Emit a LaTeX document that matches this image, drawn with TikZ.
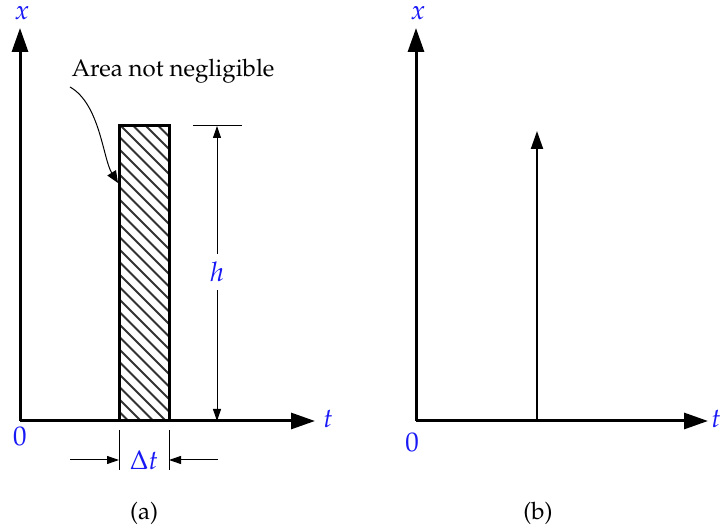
\documentclass[tikz,border=0pt]{standalone}
\usepackage[T1]{fontenc}
\usepackage{mathpazo}
\usetikzlibrary{arrows.meta,positioning}
\definecolor{labelblue}{RGB}{25,25,245}
\tikzset{
  axis line/.style={line width=1.5pt, -{Triangle[length=12pt,width=8pt]}},
  axis label/.style={text=labelblue, font=\fontsize{13.5}{16}\selectfont, inner sep=1pt},
  dim line/.style={line width=0.5pt},
  dim arrow/.style={line width=0.5pt, -{Triangle[length=6pt,width=4pt]}},
  pulse box/.style={line width=1.5pt},
  hatch line/.style={line width=0.9pt, black!80},
  impulse arrow/.style={line width=1pt, -{Triangle[length=9pt,width=6pt]}},
  note text/.style={font=\fontsize{12}{14}\selectfont, inner sep=1pt}
}

\begin{document}
\begin{tikzpicture}[x=0.5pt,y=0.5pt]
  \useasboundingbox (0,0) rectangle (723,529);

  % (a) pulse of finite width
  \coordinate (oa) at (20,108);
  \coordinate (ya) at (20,501);
  \coordinate (xa) at (315,108);
  \coordinate (pa) at (119,108);
  \coordinate (pb) at (169,403);

  \begin{scope}
    \clip (pa) rectangle (pb);
    \foreach \k in {0,...,28}
      \draw[hatch line] (119,455-\k*12.5) -- ++(70,-70);
  \end{scope}
  \draw[pulse box] (pa) rectangle (pb);

  \draw[axis line] (oa) -- (ya);
  \draw[axis line] (oa) -- (xa);
  \node[axis label] (xlaba) at (22,516) {$x$};
  \node[axis label] (tlaba) at (328,110) {$t$};
  \node[axis label] (zeroa) at (20,92) {$0$};

  % height h
  \coordinate (htick l) at (193,403);
  \coordinate (htick r) at (242,403);
  \coordinate (htop) at (217,403);
  \coordinate (hbot) at (217,108);
  \draw[dim line] (htick l) -- (htick r);
  \node[axis label, inner sep=4pt] (hlab) at (217,257) {$h$};
  \draw[dim arrow] (hlab) -- (htop);
  \draw[dim arrow] (hlab) -- (hbot);

  % width Delta t
  \draw[dim line] (119,99) -- (119,59);
  \draw[dim line] (169,99) -- (169,59);
  \node[axis label] (dtlab) at (144,69) {$\Delta t$};
  \coordinate (dtl) at (70,69);
  \coordinate (dtr) at (218,69);
  \draw[dim arrow] (dtl) -- (119,69);
  \draw[dim arrow] (dtr) -- (169,69);

  % annotation
  \node[note text] (area) at (173,458) {Area not negligible};
  \coordinate (cstart) at (70,442);
  \coordinate (cend) at (118,346);
  \draw[dim line, -{Triangle[length=6pt,width=5pt]}]
    (cstart) .. controls (100,425) and (103,370) .. (cend);

  \node[note text] (capa) at (144,16) {(a)};

  % (b) impulse
  \coordinate (ob) at (416,108);
  \coordinate (yb) at (416,501);
  \coordinate (xb) at (708,108);
  \coordinate (ib) at (537,108);
  \coordinate (itop) at (537,398);
  \draw[axis line] (ob) -- (yb);
  \draw[axis line] (ob) -- (xb);
  \draw[impulse arrow] (ib) -- (itop);
  \node[axis label] (xlabb) at (418,516) {$x$};
  \node[axis label] (tlabb) at (716,110) {$t$};
  \node[axis label] (zerob) at (412,86) {$0$};
  \node[note text] (capb) at (538,16) {(b)};
\end{tikzpicture}
\end{document}
